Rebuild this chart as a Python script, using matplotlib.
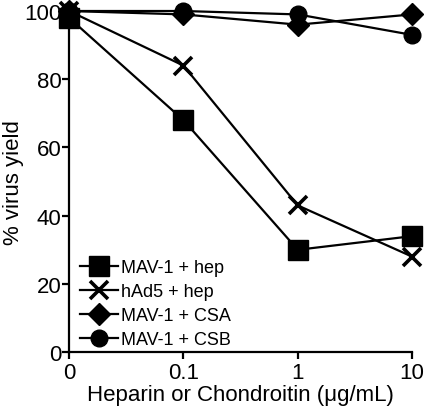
import numpy as np
import matplotlib
matplotlib.use('Agg')
import matplotlib.pyplot as plt

plt.rcParams['font.family'] = ['Liberation Sans', 'DejaVu Sans']

doses = ['0', '0.1', '1', '10']
mav1_hep = [98, 68, 30, 34]
had5_hep = [100, 84, 43, 28]
mav1_csa = [100, 99, 96, 99]
mav1_csb = [100, 100, 99, 93]

x = np.arange(len(doses))

fig = plt.figure(figsize=(4.32, 4.14), dpi=100)
ax = fig.add_axes([0.16, 0.147, 0.794, 0.824])

ax.plot(x, mav1_csb, 'k-', marker='o', ms=12, lw=1.6, label='MAV-1 + CSB')
ax.plot(x, mav1_csa, 'k-', marker='D', ms=11, lw=1.6, label='MAV-1 + CSA')
ax.plot(x, had5_hep, 'k-', marker='x', ms=13, mew=2.6, lw=1.6, label='hAd5 + hep')
ax.plot(x, mav1_hep, 'k-', marker='s', ms=14, lw=1.6, label='MAV-1 + hep')

ax.set_xlim(0, 3)
ax.set_ylim(0, 100)
ax.set_xticks(x)
ax.set_xticklabels(doses)
ax.set_yticks([0, 20, 40, 60, 80, 100])

for s in ['top', 'right']:
    ax.spines[s].set_visible(False)
for s in ['left', 'bottom']:
    ax.spines[s].set_linewidth(1.6)
ax.tick_params(direction='out', length=5, width=1.6, labelsize=16)
ax.tick_params(axis='y', pad=0.5)
ax.tick_params(axis='x', pad=2)

ax.set_xlabel('Heparin or Chondroitin (\u03bcg/mL)', fontsize=16, labelpad=1)
ax.set_ylabel('% virus yield', fontsize=16, labelpad=0)

h, l = ax.get_legend_handles_labels()
ax.legend(h[::-1], l[::-1], loc='lower left', bbox_to_anchor=(0.032, 0.012),
          frameon=False, fontsize=13, handlelength=2.1, handletextpad=0.15,
          labelspacing=0.38, borderpad=0, borderaxespad=0)

for ln in ax.get_lines():
    ln.set_clip_on(False)

plt.savefig('out.png', dpi=100)
